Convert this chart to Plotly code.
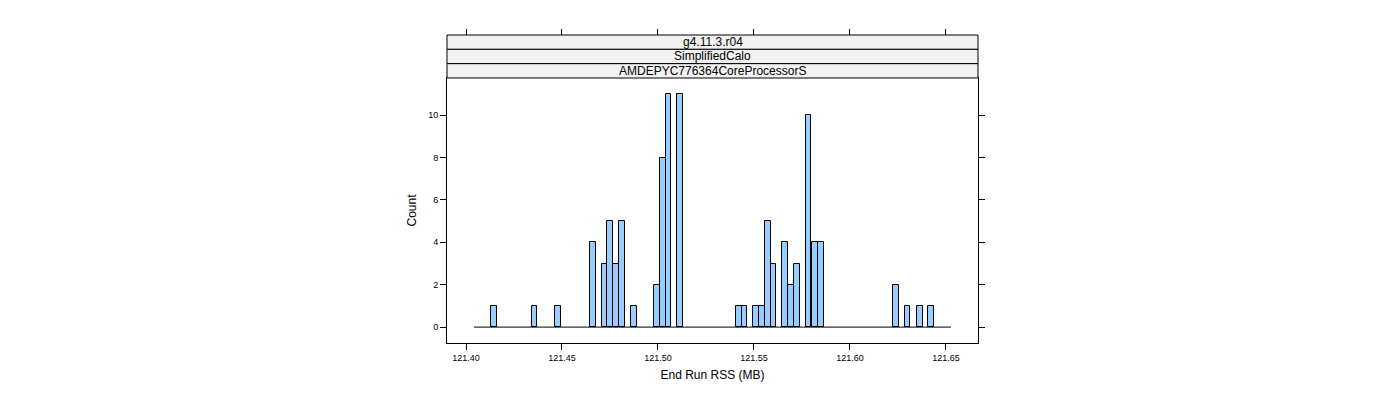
import plotly.graph_objects as go

bin_centers = [121.4144, 121.4357, 121.4479, 121.4661, 121.4722, 121.4751, 121.4782, 121.4814,
               121.4873, 121.4994, 121.5026, 121.5055, 121.5116, 121.5420, 121.5451, 121.5511,
               121.5541, 121.5571, 121.5602, 121.5663, 121.5694, 121.5723, 121.5784, 121.5816,
               121.5847, 121.6241, 121.6300, 121.6363, 121.6423]
counts = [1, 1, 1, 4, 3, 5, 3, 5, 1, 2, 8, 11, 11, 1, 1, 1, 1, 5, 3, 4, 2, 3, 10, 4, 4, 2, 1, 1, 1]
bin_width = 0.00305
range_lo, range_hi = 121.4042, 121.6526
x_ticks = [121.40, 121.45, 121.50, 121.55, 121.60, 121.65]
y_ticks = [0, 2, 4, 6, 8, 10]
strips = ["g4.11.3.r04", "SimplifiedCalo", "AMDEPYC776364CoreProcessorS"]

W, H = 1400, 400
off = 8
pl, pr, pt, pb = 447 - off, 978 - off, 78 - off, 343 - off
top = 35 - off
dom_top = (pb - pt) / (pb - top)

fig = go.Figure()
fig.add_trace(go.Scatter(x=[range_lo, range_hi], y=[0, 0], mode="lines",
                         line=dict(color="black", width=1), hoverinfo="skip", showlegend=False))
fig.add_trace(go.Bar(x=bin_centers, y=counts, width=bin_width,
                     marker=dict(color="#99ccff", line=dict(color="black", width=1)), showlegend=False))
fig.add_trace(go.Scatter(x=[range_lo], y=[0], xaxis="x2", mode="markers",
                         marker=dict(opacity=0), showlegend=False, hoverinfo="skip"))

xr = [121.3901, 121.6667]
fam = "Liberation Sans, Arial"
fig.update_layout(
    width=W, height=H, plot_bgcolor="white", paper_bgcolor="white",
    margin=dict(l=pl, r=W - pr, t=top, b=H - pb, autoexpand=False), bargap=0,
    font=dict(family=fam, color="black"),
    xaxis=dict(range=xr, tickvals=x_ticks, ticktext=[f"{v:.2f}" for v in x_ticks],
               ticks="outside", ticklen=6, tickcolor="black", showline=True, linecolor="black",
               mirror=True, showgrid=False, zeroline=False, tickfont=dict(family=fam, size=9, color="black"),
               title=dict(text="End Run RSS (MB)", font=dict(family=fam, size=12, color="black"), standoff=8)),
    xaxis2=dict(range=xr, overlaying="x", side="top", anchor="free", position=1,
                tickvals=x_ticks, showticklabels=False, ticks="outside", ticklen=6, tickcolor="black",
                showgrid=False, zeroline=False, showline=False),
    yaxis=dict(domain=[0, dom_top], range=[-0.75, 11.75], tickvals=y_ticks,
               ticks="outside", ticklen=6, tickcolor="black", showline=True, linecolor="black",
               mirror="ticks", showgrid=False, zeroline=False,
               tickfont=dict(family=fam, size=9, color="black"),
               title=dict(text="Count", font=dict(family=fam, size=12, color="black"), standoff=8)),
)

strip_h = (pt - top) / len(strips)
for i, s in enumerate(strips):
    y1 = 1 - i * strip_h / (pb - top)
    y0 = 1 - (i + 1) * strip_h / (pb - top)
    fig.add_shape(type="rect", xref="paper", yref="paper", x0=0, x1=1, y0=y0, y1=y1,
                  fillcolor="#f2f2f2", line=dict(color="black", width=1))
    fig.add_annotation(xref="paper", yref="paper", x=0.5, y=(y0 + y1) / 2, text=s,
                       xanchor="center", yanchor="middle", showarrow=False,
                       font=dict(family=fam, size=12, color="black"))

fig.write_html("out.html")
